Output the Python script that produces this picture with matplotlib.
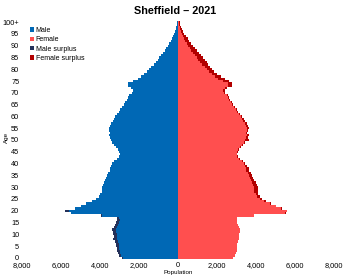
import numpy as np
import matplotlib
matplotlib.use("Agg")
import matplotlib.pyplot as plt

plt.rcParams['font.family'] = ['Liberation Sans', 'DejaVu Sans']

# Population by single year of age (0 .. 100+)
ages = np.arange(0, 101)
male = [2850, 3020, 3080, 3120, 3120, 3200, 3170, 3230, 3320, 3300,
        3330, 3320, 3370, 3300, 3220, 3170, 3120, 3120, 3950, 5500,
        5800, 5300, 5000, 4700, 4400, 4200, 4050, 3980, 3920, 3900,
        3880, 3850, 3800, 3720, 3680, 3620, 3580, 3500, 3480, 3420,
        3380, 3300, 3120, 3020, 3000, 3020, 3080, 3200, 3280, 3380,
        3450, 3500, 3550, 3480, 3520, 3550, 3500, 3450, 3350, 3300,
        3220, 3120, 3020, 2950, 2880, 2780, 2700, 2620, 2550, 2500,
        2350, 2300, 2400, 2550, 2550, 2300, 2050, 1880, 1720, 1600,
        1480, 1360, 1250, 1150, 1050, 950, 860, 770, 680, 600,
        520, 450, 380, 320, 260, 210, 160, 120, 80, 50,
        60]
female = [2800, 2920, 2980, 3000, 3020, 3050, 3050, 3080, 3120, 3150,
          3150, 3170, 3170, 3150, 3100, 3020, 3000, 3020, 3900, 5520,
          5600, 5350, 5050, 4780, 4500, 4320, 4200, 4100, 4100, 4100,
          4080, 4070, 4000, 3900, 3830, 3800, 3730, 3620, 3660, 3520,
          3460, 3350, 3170, 3070, 3050, 3070, 3130, 3250, 3330, 3430,
          3650, 3580, 3630, 3560, 3600, 3630, 3580, 3530, 3430, 3380,
          3280, 3180, 3080, 3010, 2940, 2840, 2760, 2680, 2610, 2560,
          2430, 2400, 2520, 2750, 2750, 2600, 2400, 2180, 2000, 1870,
          1750, 1640, 1550, 1470, 1380, 1280, 1190, 1090, 980, 880,
          780, 690, 580, 500, 410, 330, 250, 190, 130, 80,
          110]

male = np.array(male)
female = np.array(female)
common = np.minimum(male, female)
male_surplus = male - common
female_surplus = female - common

c_male = '#0068b5'
c_female = '#ff4f4f'
c_msur = '#24315a'
c_fsur = '#b20000'

fig = plt.figure(figsize=(3.5, 2.77), dpi=100)
ax = fig.add_axes([22 / 350, 1 - 259 / 277, 312 / 350, 238 / 277])

ax.barh(ages, -common, height=1.0, color=c_male, label='Male', linewidth=0)
ax.barh(ages, common, height=1.0, color=c_female, label='Female', linewidth=0)
ax.barh(ages, -male_surplus, left=-common, height=1.0, color=c_msur,
        label='Male surplus', linewidth=0)
ax.barh(ages, female_surplus, left=common, height=1.0, color=c_fsur,
        label='Female surplus', linewidth=0)

ax.set_xlim(-8000, 8000)
ax.set_ylim(-0.5, 100.5)
xt = np.arange(-8000, 8001, 2000)
ax.set_xticks(xt)
ax.set_xticklabels([f"{abs(v):,}" for v in xt], fontsize=5.3)
yt = np.arange(0, 101, 5)
ax.set_yticks(yt)
ax.set_yticklabels([str(v) for v in yt[:-1]] + ['100+'], fontsize=5.3)
ax.tick_params(length=0, pad=2)
for s in ax.spines.values():
    s.set_visible(False)

ax.set_xlabel('Population', fontsize=4.5, labelpad=1)
fig.text(6 / 350, 1 - 137 / 277, 'Age', rotation=90, ha='center',
         va='center', fontsize=4.5)
fig.text(0.5, 1 - 11 / 277, 'Sheffield – 2021', ha='center', va='center',
         fontsize=7.8, fontweight='bold')

ax.legend(loc='upper left', bbox_to_anchor=(0.015, 0.99), fontsize=5,
          frameon=False, handlelength=0.6, handleheight=0.6,
          handletextpad=0.2, labelspacing=0.35, borderpad=0)

fig.savefig('out.png', dpi=100)
